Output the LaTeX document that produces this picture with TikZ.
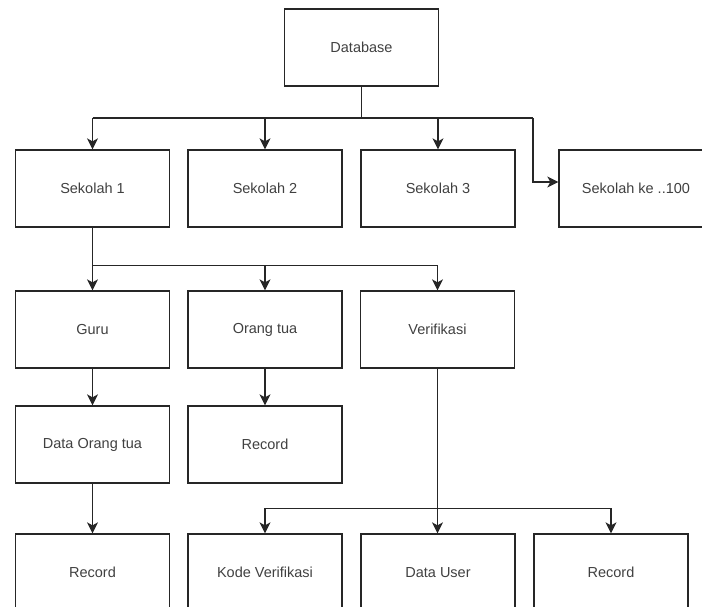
\documentclass[tikz,border=0pt]{standalone}
\usepackage{fontspec}
\setmainfont{Liberation Sans}
\usetikzlibrary{arrows.meta}
\begin{document}
\begin{tikzpicture}[x=1pt,y=-1pt,
  box/.style={draw=black!85,line width=1.3pt,minimum width=154pt,minimum height=77pt,inner sep=0pt,
    font=\fontsize{14.5}{17}\selectfont,text=black!75},
  conn/.style={draw=black!85,line width=1.3pt},
  arr/.style={conn,-{Stealth[length=11pt,width=11pt,inset=3pt]}}]
\useasboundingbox (0,0) rectangle (702,607);
\clip (0,0) rectangle (702,607);
\node[box] (db) at (361.5,47.5) {Database};
\node[box] (s1) at (92.5,188.5) {Sekolah 1};
\node[box] (s2) at (265,188.5) {Sekolah 2};
\node[box] (s3) at (438,188.5) {Sekolah 3};
\node[box] (s100) at (636,188.5) {Sekolah ke ..100};
\node[box] (guru) at (92.5,329.5) {Guru};
\node[box] (ortu) at (265,329.5) {Orang tua};
\node[box] (verif) at (437.5,329.5) {Verifikasi};
\node[box] (dot) at (92.5,444.5) {Data Orang tua};
\node[box] (rec1) at (265,444.5) {Record};
\node[box] (rec2) at (92.5,572.5) {Record};
\node[box] (kode) at (265,572.5) {Kode Verifikasi};
\node[box] (duser) at (438,572.5) {Data User};
\node[box] (rec3) at (611,572.5) {Record};
% bus coordinates
\coordinate (b1) at (361.5,118);
\coordinate (b1r) at (533,118);
\coordinate (b100) at (533,182);
\coordinate (b2) at (92.5,265.7);
\coordinate (b3l) at (265,508.3);
\coordinate (b3r) at (611,508.3);
\draw[conn] (db.south) -- (b1);
\draw[conn] (s1.north |- b1) -- (b1r);
\draw[arr] (s1.north |- b1) -- (s1.north);
\draw[arr] (s2.north |- b1) -- (s2.north);
\draw[arr] (s3.north |- b1) -- (s3.north);
\draw[arr] (b1r) -- (b100) -- (s100.west |- b100);
\draw[arr] (s1.south) -- (guru.north);
\draw[conn] (b2) -- (verif.north |- b2);
\draw[arr] (ortu.north |- b2) -- (ortu.north);
\draw[arr] (verif.north |- b2) -- (verif.north);
\draw[arr] (guru.south) -- (dot.north);
\draw[arr] (ortu.south) -- (rec1.north);
\draw[arr] (dot.south) -- (rec2.north);
\draw[arr] (verif.south) -- (verif.south |- duser.north);
\draw[conn] (b3l) -- (b3r);
\draw[arr] (b3l) -- (kode.north);
\draw[arr] (b3r) -- (rec3.north);
\end{tikzpicture}
\end{document}
